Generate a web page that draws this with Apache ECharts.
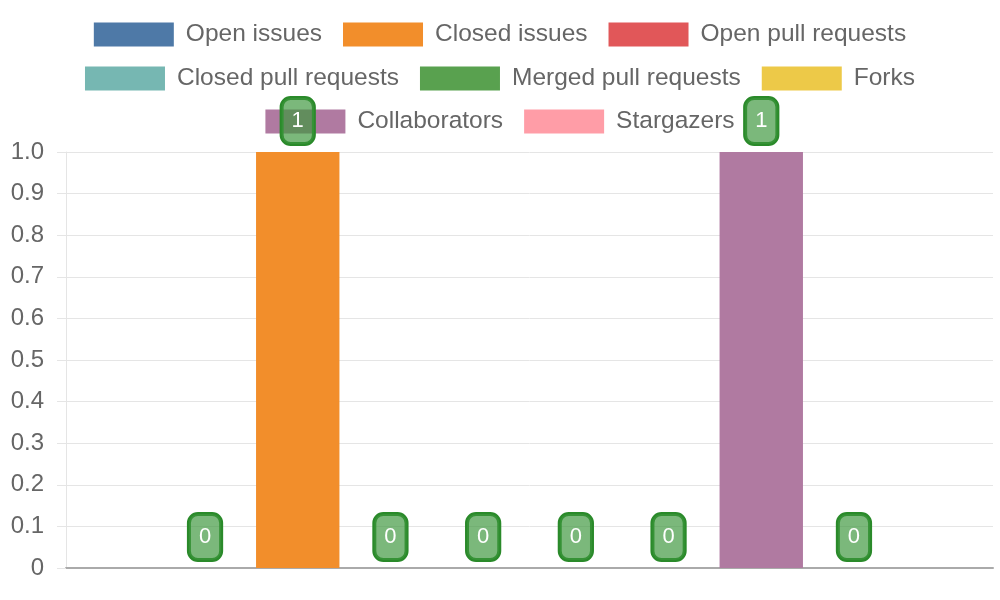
<!DOCTYPE html>
<html>
<head>
<meta charset="utf-8">
<script src="https://cdn.jsdelivr.net/npm/echarts@6/dist/echarts.min.js"></script>
<style>html,body{margin:0;padding:0;background:#fff}#c{width:1000px;height:600px}</style>
</head>
<body>
<div id="c"></div>
<script>
const categories = [''];
const seriesNames = ['Open issues', 'Closed issues', 'Open pull requests', 'Closed pull requests', 'Merged pull requests', 'Forks', 'Collaborators', 'Stargazers'];
const seriesValues = [0, 1, 0, 0, 0, 0, 1, 0];
const seriesColors = ['#4e79a7', '#f28e2b', '#e15759', '#76b7b2', '#59a14f', '#edc948', '#b07aa1', '#ff9da7'];
const legendRows = [
  ['Open issues', 'Closed issues', 'Open pull requests'],
  ['Closed pull requests', 'Merged pull requests', 'Forks'],
  ['Collaborators', 'Stargazers']
];
const legendTops = [17, 61, 104];
const yMin = 0, yMax = 1, yStep = 0.1;

const font = '"Liberation Sans", Arial, sans-serif';
const chart = echarts.init(document.getElementById('c'));

const legends = legendRows.map((row, i) => ({
  data: row,
  left: 'center',
  top: legendTops[i],
  orient: 'horizontal',
  icon: 'rect',
  itemWidth: 80,
  itemHeight: 24,
  itemGap: 21,
  textStyle: { fontSize: 24.5, color: '#666', fontFamily: font, padding: [0, 0, 0, 7] },
  selectedMode: false
}));

const series = seriesNames.map((name, i) => ({
  name: name,
  type: 'bar',
  data: [seriesValues[i]],
  itemStyle: { color: seriesColors[i] },
  barGap: '11.16%',
  barCategoryGap: '21%',
  z: 6,
  label: {
    show: true,
    position: 'top',
    distance: 8,
    color: '#fff',
    fontSize: 22,
    fontFamily: font,
    lineHeight: 26,
    padding: [10, 10, 10, 10],
    backgroundColor: 'rgba(60,150,60,0.68)',
    borderColor: '#2a8a2a',
    borderWidth: 2,
    borderRadius: 9
  }
}));

chart.setOption({
  animation: false,
  legend: legends,
  grid: { left: 66, right: 7, top: 152, bottom: 32, containLabel: false },
  xAxis: {
    type: 'category',
    data: categories,
    axisLine: { show: true, lineStyle: { color: '#aaa', width: 2 } },
    axisTick: { show: false },
    axisLabel: { show: false },
    splitLine: { show: false }
  },
  yAxis: {
    type: 'value',
    min: yMin,
    max: yMax,
    interval: yStep,
    axisLine: { show: true, lineStyle: { color: '#e5e5e5', width: 1 } },
    axisTick: { show: true, length: 9, lineStyle: { color: '#e5e5e5' } },
    axisLabel: {
      margin: 22,
      fontSize: 24,
      color: '#666',
      fontFamily: font,
      formatter: v => (v === 0 ? '0' : v.toFixed(1))
    },
    splitLine: { show: true, lineStyle: { color: '#e5e5e5', width: 1 } }
  },
  series: series
});
</script>
</body>
</html>
